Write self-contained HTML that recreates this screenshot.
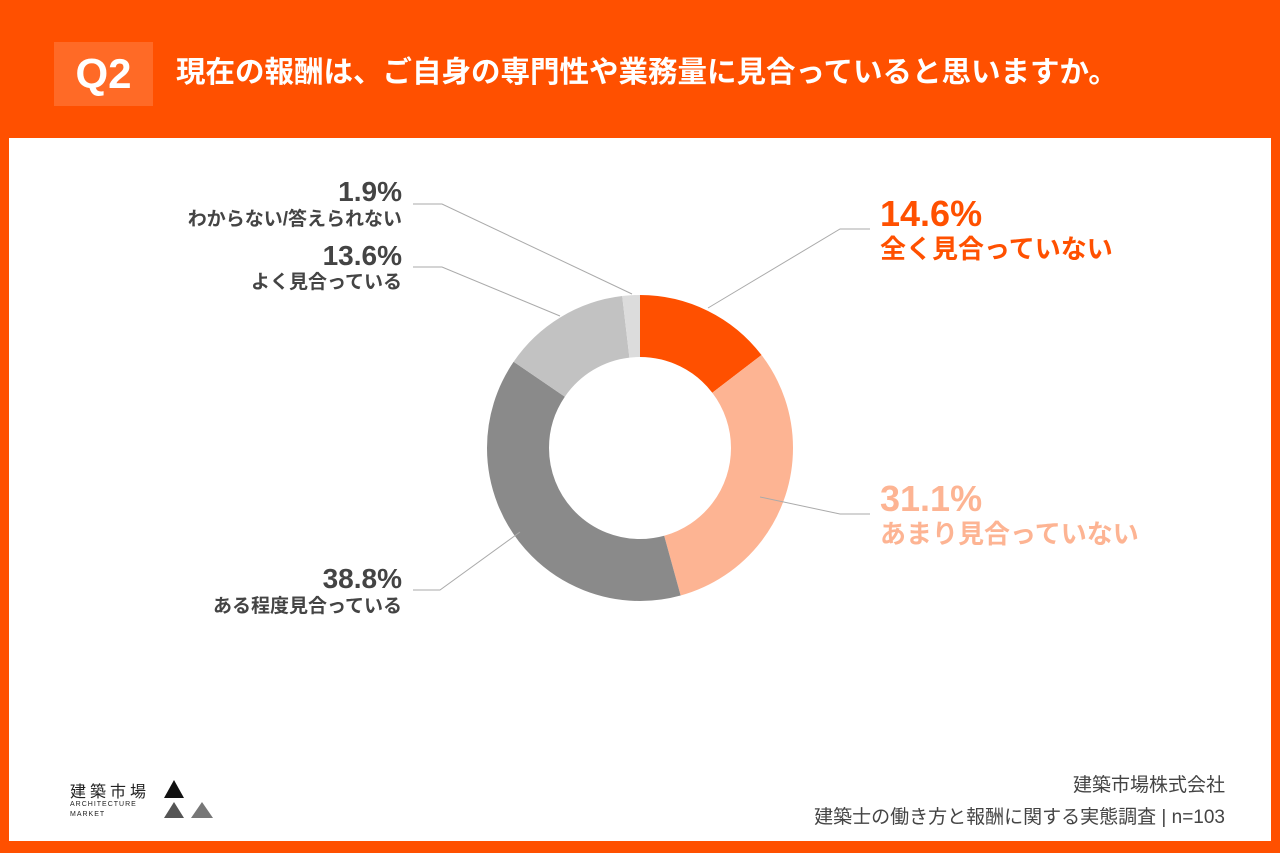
<!DOCTYPE html>
<html><head><meta charset="utf-8"><style>
body{margin:0;width:1280px;height:853px;background:#FF5000;position:relative;overflow:hidden;font-family:"Liberation Sans","Noto Sans CJK JP",sans-serif}
.panel{position:absolute;left:9px;top:138px;width:1262px;height:703px;background:#fff}
.q{position:absolute;left:54px;top:42px;width:99px;height:64px;background:#FF6A26;color:#fff;font-weight:bold;font-size:42px;line-height:64px;text-align:center}
.title{position:absolute;left:176px;top:55px;color:#fff;font-weight:bold;font-size:29.5px;line-height:36px;white-space:nowrap}
.lbl{position:absolute;font-weight:bold;white-space:nowrap}
.r{text-align:right}
</style></head><body>
<div class="q">Q2</div>
<div class="title">現在の報酬は、ご自身の専門性や業務量に見合っていると思いますか。</div>
<div class="panel"></div>
<svg style="position:absolute;left:0;top:0" width="1280" height="853">
<g transform="rotate(-90 640 448)" fill="none" stroke-width="62">
<circle cx="640" cy="448" r="122" stroke="#FF5000" stroke-dasharray="111.92 766.55" stroke-dashoffset="0"/>
<circle cx="640" cy="448" r="122" stroke="#FDB493" stroke-dasharray="238.4 766.55" stroke-dashoffset="-111.92"/>
<circle cx="640" cy="448" r="122" stroke="#8A8A8A" stroke-dasharray="297.4 766.55" stroke-dashoffset="-350.32"/>
<circle cx="640" cy="448" r="122" stroke="#C2C2C2" stroke-dasharray="104.25 766.55" stroke-dashoffset="-647.72"/>
<circle cx="640" cy="448" r="122" stroke="#DCDCDC" stroke-dasharray="14.56 766.55" stroke-dashoffset="-751.97"/>
</g>
<g stroke="#aaa" stroke-width="1" fill="none">
<polyline points="413,204 442,204 632,294"/>
<polyline points="413,267 442,267 560,316"/>
<polyline points="708,308 840,229 870,229"/>
<polyline points="760,497 840,514 870,514"/>
<polyline points="413,590 440,590 520,532"/>
</g>
</svg>
<div class="lbl r" style="right:878px;top:176px;font-size:28px;color:#444">1.9%</div>
<div class="lbl r" style="right:878px;top:204px;font-size:19px;color:#444">わからない/答えられない</div>
<div class="lbl r" style="right:878px;top:240px;font-size:28px;color:#444">13.6%</div>
<div class="lbl r" style="right:878px;top:267px;font-size:19px;color:#444">よく見合っている</div>
<div class="lbl r" style="right:878px;top:563px;font-size:28px;color:#444">38.8%</div>
<div class="lbl r" style="right:878px;top:591px;font-size:19px;color:#444">ある程度見合っている</div>
<div class="lbl" style="left:880px;top:193px;font-size:36px;color:#FF5000">14.6%</div>
<div class="lbl" style="left:880px;top:229px;font-size:26px;color:#FF5000">全く見合っていない</div>
<div class="lbl" style="left:880px;top:478px;font-size:36px;color:#FDB493">31.1%</div>
<div class="lbl" style="left:880px;top:514px;font-size:26px;color:#FDB493">あまり見合っていない</div>
<div style="position:absolute;left:70px;top:778px;font-size:16px;color:#222;letter-spacing:4px">建築市場</div>
<div style="position:absolute;left:70px;top:800px;font-size:7px;color:#222;letter-spacing:1px;line-height:10px">ARCHITECTURE<br>MARKET</div>
<svg style="position:absolute;left:158px;top:780px" width="60" height="40"><polygon points="16,0 26,18 6,18" fill="#111"/><polygon points="16,22 26,38 6,38" fill="#555"/><polygon points="44,22 55,38 33,38" fill="#777"/></svg>
<div style="position:absolute;right:55px;top:770px;font-size:19px;color:#444;text-align:right;line-height:32px">建築市場株式会社<br>建築士の働き方と報酬に関する実態調査 | n=103</div>
</body></html>
